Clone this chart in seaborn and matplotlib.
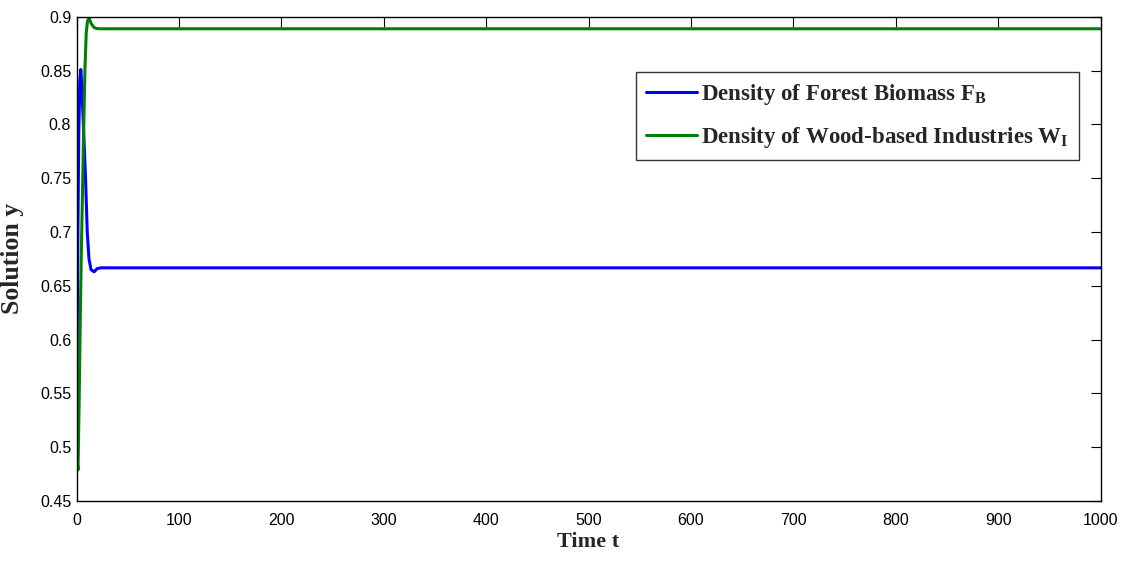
import pandas as pd
import matplotlib
matplotlib.use('Agg')
import matplotlib.pyplot as plt
import seaborn as sns

# values (time, density)
t_forest = [0, 0.5, 1, 2, 3, 4, 5, 6.5, 8.7, 10.3, 12, 14, 17, 20, 24, 1000]
forest_biomass = [0.50, 0.60, 0.68, 0.79, 0.84, 0.851, 0.835, 0.80, 0.748, 0.70, 0.675, 0.665, 0.663, 0.666, 0.6667, 0.6667]

t_wood = [0, 0.7, 1.3, 2.5, 3.5, 4.5, 6.5, 8, 9.3, 10.5, 12, 14, 17, 20, 24, 1000]
wood_industries = [0.50, 0.485, 0.479, 0.55, 0.62, 0.68, 0.78, 0.85, 0.885, 0.896, 0.899, 0.894, 0.890, 0.889, 0.8889, 0.8889]

x_ticks = list(range(0, 1001, 100))
y_ticks = [0.45, 0.5, 0.55, 0.6, 0.65, 0.7, 0.75, 0.8, 0.85, 0.9]
y_tick_labels = ['0.45', '0.5', '0.55', '0.6', '0.65', '0.7', '0.75', '0.8', '0.85', '0.9']

sns.set_theme(style='white')
plt.rcParams['font.family'] = ['Liberation Sans', 'DejaVu Sans']
plt.rcParams['mathtext.fontset'] = 'custom'
plt.rcParams['mathtext.rm'] = 'Liberation Serif'
plt.rcParams['mathtext.bf'] = 'Liberation Serif:bold'

forest_df = pd.DataFrame({'t': t_forest, 'y': forest_biomass})
wood_df = pd.DataFrame({'t': t_wood, 'y': wood_industries})

fig = plt.figure(figsize=(11.23, 5.61), dpi=100)
ax = fig.add_axes([0.0683, 0.107, 0.9117, 0.863])

sns.lineplot(data=forest_df, x='t', y='y', color='#0000ff', linewidth=2.2, ax=ax,
             label=r'Density of Forest Biomass F$_{\mathbf{B}}$')
sns.lineplot(data=wood_df, x='t', y='y', color='#008000', linewidth=2.2, ax=ax,
             label=r'Density of Wood-based Industries W$_{\mathbf{I}}$')

ax.set_xlim(0, 1000)
ax.set_ylim(0.45, 0.9)
ax.set_xticks(x_ticks)
ax.set_yticks(y_ticks)
ax.set_yticklabels(y_tick_labels)
ax.tick_params(direction='in', top=True, right=True, length=7.5, width=0.8,
               labelsize=11.5, colors='black')
ax.tick_params(axis='x', pad=9)
ax.tick_params(axis='y', pad=4)
for side in ax.spines.values():
    side.set_color('black')
    side.set_linewidth(1.0)

ax.set_xlabel('Time t', fontsize=16, fontweight='bold', family='Liberation Serif', va='top')
ax.xaxis.set_label_coords(0.5, -0.064)
ax.set_ylabel('Solution y', fontsize=18.5, fontweight='bold', family='Liberation Serif')
ax.yaxis.set_label_coords(-0.051, 0.5)

leg = ax.legend(loc='upper right', bbox_to_anchor=(0.979, 0.886), borderaxespad=0,
                frameon=True, fancybox=False,
                borderpad=0.45, handlelength=2.2, handletextpad=0.2, labelspacing=0.75,
                prop={'family': 'Liberation Serif', 'weight': 'bold', 'size': 16.5})
leg.get_frame().set_edgecolor('black')
leg.get_frame().set_linewidth(1.0)

fig.savefig('out.png', dpi=100)
